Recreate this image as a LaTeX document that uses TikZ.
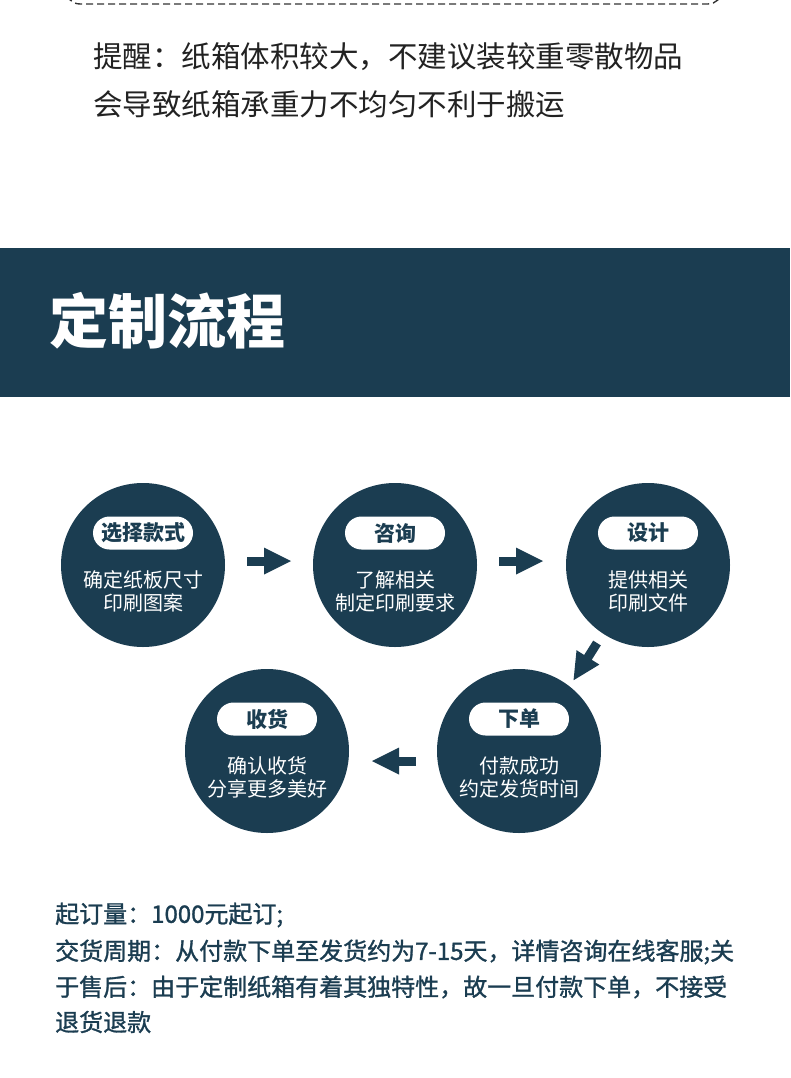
\documentclass[tikz,border=0pt]{standalone}
\usepackage{fontspec}
\setmainfont{Noto Sans CJK SC}
\newfontfamily\medfont[FakeBold=1.2]{Noto Sans CJK SC}
\usetikzlibrary{calc}
\definecolor{navy}{HTML}{1B3D51}
\definecolor{ink}{HTML}{222222}
\definecolor{dashgray}{HTML}{333333}
\begin{document}
\begin{tikzpicture}[x=1pt,y=1pt,
  flowcircle/.style={circle, fill=navy, minimum size=164pt, inner sep=0pt},
  pill/.style={fill=white, rounded corners=16.5pt, minimum width=100pt, minimum height=33pt, inner sep=0pt, text=navy, font=\fontsize{21}{21}\selectfont\bfseries},
  bodytext/.style={text=white, align=center, font=\fontsize{20}{23}\selectfont, inner sep=0pt},
  notetext/.style={anchor=west, inner sep=0pt, text=ink, font=\fontsize{29.5}{30}\selectfont},
  infotext/.style={anchor=west, inner sep=0pt, text=navy, font=\fontsize{24}{24}\selectfont\medfont},
  blockarrow/.pic={\fill[navy] (0,-4.5) rectangle (19,4.5); \fill[navy] (17,-13.5) -- (44,0) -- (17,13.5) -- cycle;}
]
\useasboundingbox (0,0) rectangle (790,-1078);
\clip (0,0) rectangle (790,-1078);
\fill[white] (0,0) rectangle (790,-1078);

% top dashed box (bottom edge only visible)
\draw[dashgray, line width=1.4pt, dash pattern=on 7pt off 4pt, rounded corners=14pt] (66,40) rectangle (722,-4);

% note text
\node[notetext] (n1) at (93,-57) {提醒：纸箱体积较大，不建议装较重零散物品};
\node[notetext] (n2) at (93,-104) {会导致纸箱承重力不均匀不利于搬运};

% banner
\fill[navy] (0,-248) rectangle (790,-397);
\node[anchor=west, inner sep=0pt, text=white, font=\fontsize{59}{59}\selectfont\bfseries] (title) at (49,-321) {定制流程};

% circles
\foreach \name/\x/\y/\lab/\body in {
  c1/143/565/选择款式/{确定纸板尺寸\\印刷图案},
  c2/395/565/咨询/{了解相关\\制定印刷要求},
  c3/648/565/设计/{提供相关\\印刷文件},
  c4/519/751/下单/{付款成功\\约定发货时间},
  c5/267/751/收货/{确认收货\\分享更多美好}} {
  \node[flowcircle] (\name) at (\x,-\y) {};
  \node[pill] (\name p) at ($(\name.center)+(0,32)$) {\lab};
  \node[bodytext] (\name t) at ($(\name.center)+(0,-26.5)$) {\body};
}

% arrows
\coordinate (a12) at (247,-561);
\coordinate (a23) at (499,-561);
\coordinate (a34) at (597,-643);
\coordinate (a45) at (416,-761);
\pic at (a12) {blockarrow};
\pic at (a23) {blockarrow};
\pic[rotate=-122.2] at (a34) {blockarrow};
\pic[rotate=180] at (a45) {blockarrow};

% info text
\node[infotext] (i1) at (55,-915) {起订量：1000元起订;};
\node[infotext] (i2) at (55,-952) {交货周期：从付款下单至发货约为7-15天，详情咨询在线客服;关};
\node[infotext] (i3) at (55,-987) {于售后：由于定制纸箱有着其独特性，故一旦付款下单，不接受};
\node[infotext] (i4) at (55,-1022) {退货退款};
\end{tikzpicture}
\end{document}
